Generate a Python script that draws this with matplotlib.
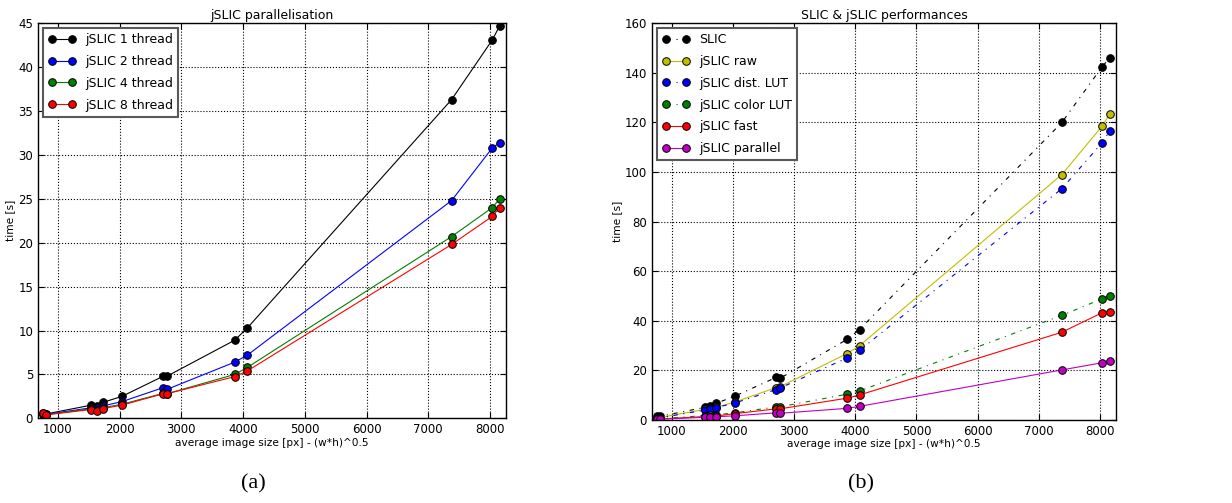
import matplotlib
matplotlib.use("Agg")
import matplotlib.pyplot as plt

# taille moyenne des images (px) - (w*h)^0.5
taille = [757, 811, 1541, 1632, 1724, 2038, 2708, 2768, 3865, 4070, 7378, 8038, 8157]

# (a) jSLIC parallelisation
thread_1 = [0.57, 0.5, 1.5, 1.4, 1.8, 2.5, 4.8, 4.8, 8.9, 10.3, 36.3, 43.1, 44.7]
thread_2 = [0.5, 0.45, 1.2, 1.2, 1.4, 1.9, 3.5, 3.3, 6.4, 7.2, 24.8, 30.8, 31.4]
thread_4 = [0.5, 0.4, 1.1, 0.95, 1.2, 1.6, 2.85, 2.8, 5.0, 5.8, 20.7, 24.0, 25.0]
thread_8 = [0.55, 0.4, 1.0, 0.85, 1.1, 1.5, 2.8, 2.8, 4.75, 5.4, 19.8, 23.0, 24.0]

# (b) SLIC & jSLIC performances
slic = [1.6, 1.5, 5.1, 5.6, 6.7, 9.7, 17.2, 16.8, 32.5, 36.5, 120.0, 142.5, 146.0]
jslic_raw = [1.0, 1.0, 4.3, 4.6, 5.1, 7.3, 13.1, 13.4, 26.8, 30.0, 99.0, 118.6, 123.3]
jslic_dist = [0.9, 0.9, 4.0, 4.3, 5.0, 6.9, 12.3, 12.9, 25.0, 28.1, 93.3, 111.9, 116.4]
jslic_color = [0.6, 0.5, 1.8, 1.9, 2.1, 2.9, 5.3, 5.3, 10.4, 11.7, 42.2, 48.9, 50.2]
jslic_fast = [0.5, 0.4, 1.4, 1.3, 1.6, 2.6, 4.5, 4.5, 8.8, 10.1, 35.4, 43.3, 43.7]
jslic_par = [0.3, 0.3, 1.1, 1.1, 1.3, 1.7, 2.9, 2.7, 4.7, 5.5, 20.2, 23.1, 23.9]

plt.rcParams['font.family'] = 'DejaVu Sans'
plt.rcParams['xtick.direction'] = 'in'
plt.rcParams['ytick.direction'] = 'in'
plt.rcParams['xtick.top'] = True
plt.rcParams['ytick.right'] = True

fig = plt.figure(figsize=(12.32, 5.03), dpi=100)
ax1 = fig.add_axes([0.0308, 0.1684, 0.38, 0.7853])
ax2 = fig.add_axes([0.5292, 0.165, 0.3766, 0.7887])

VERT = (0, 0.5, 0)
JAUNE = (0.75, 0.75, 0)
TIRET_POINT = (0, (4, 5, 1, 5))


def trace(ax, y, couleur, style, label):
    """trace une serie avec des ronds bord noir"""
    ax.plot(taille, y, linestyle=style, color=couleur, lw=0.8, marker='o',
            markersize=5.5, markerfacecolor=couleur, markeredgecolor='k',
            markeredgewidth=0.7, label=label)


trace(ax1, thread_1, 'k', '-', 'jSLIC 1 thread')
trace(ax1, thread_2, 'b', '-', 'jSLIC 2 thread')
trace(ax1, thread_4, VERT, '-', 'jSLIC 4 thread')
trace(ax1, thread_8, 'r', '-', 'jSLIC 8 thread')

trace(ax2, slic, 'k', TIRET_POINT, 'SLIC')
trace(ax2, jslic_raw, JAUNE, '-', 'jSLIC raw')
trace(ax2, jslic_dist, 'b', TIRET_POINT, 'jSLIC dist. LUT')
trace(ax2, jslic_color, VERT, TIRET_POINT, 'jSLIC color LUT')
trace(ax2, jslic_fast, 'r', '-', 'jSLIC fast')
trace(ax2, jslic_par, 'm', '-', 'jSLIC parallel')

for ax, titre, ymax, ystep in [(ax1, 'jSLIC parallelisation', 45, 5),
                               (ax2, 'SLIC & jSLIC performances', 160, 20)]:
    ax.set_xlim(676, 8262)
    ax.set_ylim(0, ymax)
    ax.set_xticks([1000, 2000, 3000, 4000, 5000, 6000, 7000, 8000])
    ax.set_yticks(range(0, ymax + 1, ystep))
    ax.grid(True, color='k', linestyle=':', lw=0.8)
    ax.tick_params(labelsize=8.5, length=4, width=0.8)
    ax.set_title(titre, fontsize=9, pad=3)
    ax.set_xlabel('average image size [px] - (w*h)^0.5', fontsize=7.6, labelpad=1)
    ax.set_ylabel('time [s]', fontsize=7.6, labelpad=2)
    for sp in ax.spines.values():
        sp.set_linewidth(1.0)
    leg = ax.legend(loc='upper left', numpoints=2, fontsize=9, fancybox=False,
                    framealpha=1, borderaxespad=0.4, handlelength=2.2,
                    labelspacing=0.7)
    leg.get_frame().set_edgecolor('0.35')
    leg.get_frame().set_linewidth(1.5)

fig.text(0.206, 0.028, '(a)', family='Liberation Serif', fontsize=16, ha='center')
fig.text(0.699, 0.028, '(b)', family='Liberation Serif', fontsize=16, ha='center')

fig.savefig('out.png', dpi=100)
